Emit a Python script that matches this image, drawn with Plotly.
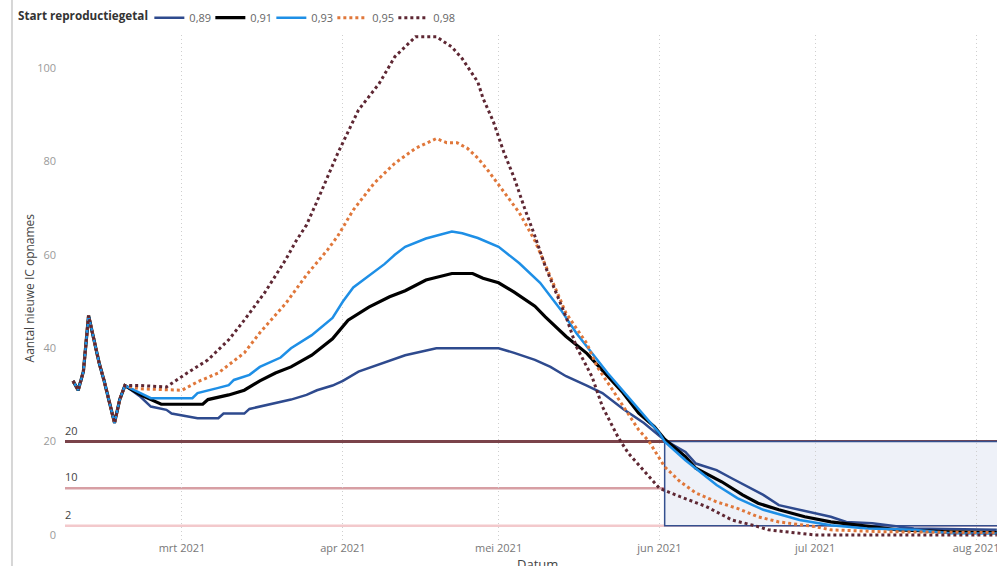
import plotly.graph_objects as go

# ---- data ----
common_dates = ["2021-02-08", "2021-02-09", "2021-02-10", "2021-02-11", "2021-02-12", "2021-02-13",
                "2021-02-14", "2021-02-15", "2021-02-16", "2021-02-17", "2021-02-18"]
common_vals = [33, 31, 35, 47, 42, 37, 33, 28.5, 24, 29, 32]

r089_dates = ["2021-02-21", "2021-02-23", "2021-02-26", "2021-02-27", "2021-03-04", "2021-03-08", "2021-03-09",
              "2021-03-13", "2021-03-14", "2021-03-18", "2021-03-22", "2021-03-25", "2021-03-27", "2021-03-30",
              "2021-04-01", "2021-04-04", "2021-04-09", "2021-04-13", "2021-04-19", "2021-05-01", "2021-05-04",
              "2021-05-08", "2021-05-11", "2021-05-14", "2021-05-18", "2021-05-21", "2021-05-25", "2021-05-28",
              "2021-05-29", "2021-06-02", "2021-06-06", "2021-06-08", "2021-06-12", "2021-06-15", "2021-06-18",
              "2021-06-21", "2021-06-24", "2021-06-28", "2021-07-04", "2021-07-07", "2021-07-12", "2021-07-20",
              "2021-08-05"]
r089_vals = [29.6, 27.5, 26.8, 26, 25, 25, 26,
             26, 27, 28, 29, 30, 31, 32,
             33, 35, 37, 38.5, 40, 40, 39,
             37.5, 36, 34, 32, 30.4, 27, 24.6,
             24, 20.3, 17.8, 15.3, 13.9, 12.1, 10.3,
             8.6, 6.4, 5.4, 3.9, 2.8, 2.5, 1.4,
             1.1]

r091_dates = ["2021-02-21", "2021-02-24", "2021-02-25", "2021-03-05", "2021-03-06", "2021-03-10", "2021-03-13",
              "2021-03-16", "2021-03-19", "2021-03-22", "2021-03-26", "2021-03-30", "2021-04-02", "2021-04-06",
              "2021-04-10", "2021-04-13", "2021-04-17", "2021-04-22", "2021-04-26", "2021-04-28", "2021-05-01",
              "2021-05-04", "2021-05-08", "2021-05-10", "2021-05-14", "2021-05-18", "2021-05-22", "2021-05-25",
              "2021-05-28", "2021-05-31", "2021-06-02", "2021-06-06", "2021-06-08", "2021-06-13", "2021-06-17",
              "2021-06-20", "2021-06-24", "2021-06-29", "2021-07-04", "2021-07-11", "2021-07-17", "2021-07-27",
              "2021-08-05"]
r091_vals = [30, 28.5, 28, 28, 29, 30, 31,
             33, 34.7, 36, 38.5, 42, 46, 48.8,
             51, 52.3, 54.6, 56, 56, 55, 54,
             52, 49, 46.7, 42.5, 38.9, 33.9, 30.4,
             26.1, 23.2, 20.5, 16.8, 14.3, 11.4, 8.6,
             6.8, 5.4, 3.9, 2.8, 1.9, 1.1, 0.7,
             0.5]

r093_dates = ["2021-02-21", "2021-02-23", "2021-03-03", "2021-03-04", "2021-03-08", "2021-03-10", "2021-03-11",
              "2021-03-14", "2021-03-16", "2021-03-20", "2021-03-22", "2021-03-26", "2021-03-30", "2021-04-01",
              "2021-04-03", "2021-04-06", "2021-04-09", "2021-04-11", "2021-04-13", "2021-04-17", "2021-04-22",
              "2021-04-24", "2021-04-27", "2021-05-01", "2021-05-05", "2021-05-09", "2021-05-13", "2021-05-16",
              "2021-05-19", "2021-05-22", "2021-05-25", "2021-05-28", "2021-06-01", "2021-06-02", "2021-06-06",
              "2021-06-12", "2021-06-16", "2021-06-21", "2021-06-28", "2021-07-04", "2021-07-11", "2021-07-20",
              "2021-07-27", "2021-08-05"]
r093_vals = [30.4, 29.3, 29.3, 30.4, 31.5, 32.1, 33.2,
             34.3, 36, 38, 40, 42.8, 46.5, 50,
             53, 55.5, 58, 60, 61.7, 63.5, 65,
             64.6, 63.6, 61.7, 58.2, 54, 48.2, 43.2,
             38.9, 34.7, 30.8, 27, 21.8, 20, 16,
             10.7, 7.9, 5.4, 3.2, 2.1, 1.4, 1.1,
             0.4, 0.3]

r095_dates = ["2021-02-21", "2021-03-01", "2021-03-04", "2021-03-08", "2021-03-13", "2021-03-16", "2021-03-21",
              "2021-03-25", "2021-03-29", "2021-03-31", "2021-04-03", "2021-04-07", "2021-04-11", "2021-04-15",
              "2021-04-19", "2021-04-21", "2021-04-23", "2021-04-25", "2021-04-27", "2021-04-29", "2021-05-01",
              "2021-05-03", "2021-05-05", "2021-05-08", "2021-05-11", "2021-05-14", "2021-05-18", "2021-05-20",
              "2021-05-23", "2021-05-26", "2021-05-28", "2021-05-30", "2021-06-02", "2021-06-05", "2021-06-08",
              "2021-06-12", "2021-06-16", "2021-06-20", "2021-06-24", "2021-07-01", "2021-07-04", "2021-07-14",
              "2021-08-05"]
r095_vals = [31.3, 31, 32.8, 34.7, 39, 43.3, 49.6,
             55.7, 61, 64, 69.6, 75.3, 79.6, 82.8,
             84.9, 84, 84, 82.8, 80.7, 78, 75,
             72, 69, 63, 55.3, 47.5, 41, 36,
             31, 26, 22.5, 20, 14.6, 11.4, 9,
             7.1, 5.7, 3.9, 2.8, 1.8, 1.1, 0.7,
             0.5]

r098_dates = ["2021-02-21", "2021-02-26", "2021-03-02", "2021-03-06", "2021-03-10", "2021-03-13", "2021-03-17",
              "2021-03-21", "2021-03-23", "2021-03-25", "2021-03-27", "2021-03-31", "2021-04-04", "2021-04-08",
              "2021-04-11", "2021-04-15", "2021-04-19", "2021-04-22", "2021-04-24", "2021-04-27", "2021-04-28",
              "2021-04-30", "2021-05-02", "2021-05-04", "2021-05-06", "2021-05-08", "2021-05-10", "2021-05-14",
              "2021-05-16", "2021-05-19", "2021-05-21", "2021-05-24", "2021-05-26", "2021-06-01", "2021-06-05",
              "2021-06-10", "2021-06-15", "2021-06-19", "2021-06-22", "2021-07-01", "2021-08-05"]
r098_vals = [32, 31.7, 34.7, 37.5, 41.8, 46, 52,
             59, 63, 66.4, 71.4, 81.7, 91, 96.7,
             102.4, 106.7, 106.7, 104.5, 102, 97, 93.5,
             88.5, 82, 76.5, 70, 64, 57.5, 46.7,
             40.3, 33.9, 27.5, 21, 17.5, 10, 8.2,
             6.1, 3.2, 2.1, 1.1, 0, 0]

series_names = ["0,89", "0,91", "0,93", "0,95", "0,98"]
series_dates = [r089_dates, r091_dates, r093_dates, r095_dates, r098_dates]
series_vals = [r089_vals, r091_vals, r093_vals, r095_vals, r098_vals]

ref_levels = [20, 10, 2]
ref_labels = ["20", "10", "2"]
zone_start = "2021-06-02"
zone_end = "2021-08-10"
zone_low, zone_high = 2, 20

month_ticks = ["2021-03-01", "2021-04-01", "2021-05-01", "2021-06-01", "2021-07-01", "2021-08-01"]
month_labels = ["mrt 2021", "apr 2021", "mei 2021", "jun 2021", "jul 2021", "aug 2021"]

# ---- styles ----
colors = ["#2E4A8E", "#000000", "#1E8FE6", "#E0773A", "#5E2733"]
widths = [2.5, 3.2, 2.5, 3, 3]
dashes = ["solid", "solid", "solid", "dot", "dot"]
ref_colors = ["#7A434A", "#D79FA4", "#F3C9CC"]
ref_widths = [3, 2.5, 2.5]

FONT = "Segoe UI, Open Sans, sans-serif"

fig = go.Figure()
for name, d, v, c, w, ds in zip(series_names, series_dates, series_vals, colors, widths, dashes):
    fig.add_trace(go.Scatter(
        x=common_dates + d, y=common_vals + v, mode="lines", name=name,
        line=dict(color=c, width=w, dash=ds), hoverinfo="skip"))
# empty spacer entry so the last legend label is not clipped
fig.add_trace(go.Scatter(x=[None], y=[None], mode="lines", name=" ",
                         line=dict(color="rgba(0,0,0,0)", width=0), hoverinfo="skip"))

# target zone rectangle
fig.add_shape(type="rect", xref="x", yref="y", x0=zone_start, x1=zone_end, y0=zone_low, y1=zone_high,
              fillcolor="#EEF1F8", line=dict(color="#34508F", width=1.5), layer="below")
for lvl, lab, c, w in zip(ref_levels, ref_labels, ref_colors, ref_widths):
    fig.add_shape(type="line", xref="paper", yref="y", x0=0, x1=1, y0=lvl, y1=lvl,
                  line=dict(color=c, width=w), layer="below")
    fig.add_annotation(xref="paper", yref="y", x=0, y=lvl, text=lab, showarrow=False,
                       xanchor="left", yanchor="bottom", yshift=2, xshift=-2,
                       font=dict(family=FONT, size=11, color="#444444"))

# left border of visual
fig.add_shape(type="line", xref="paper", yref="paper", x0=-0.0569, x1=-0.0569, y0=-0.06, y1=1.08,
              line=dict(color="#D6D6D6", width=2))

fig.add_annotation(xref="paper", yref="paper", x=-0.0376, y=0.5, text="Aantal nieuwe IC opnames",
                   textangle=-90, showarrow=False, xanchor="center", yanchor="middle",
                   font=dict(family=FONT, size=12, color="#444444"))
fig.add_annotation(xref="paper", yref="paper", x=0.5075, y=-0.026, text="Datum", showarrow=False,
                   xanchor="center", yanchor="top",
                   font=dict(family=FONT, size=13, color="#444444"))
# legend title
fig.add_annotation(xref="paper", yref="paper", x=-0.0525, y=1.0396, text="<b>Start reproductiegetal</b>",
                   showarrow=False, xanchor="left", yanchor="middle",
                   font=dict(family=FONT, size=11.7, color="#333333"))

fig.update_layout(
    width=997, height=566,
    margin=dict(l=65, r=0, t=35, b=26),
    paper_bgcolor="white", plot_bgcolor="white",
    font=dict(family=FONT, size=11, color="#777777"),
    showlegend=True,
    legend=dict(orientation="h", x=0.0905, y=1.063, xanchor="left", yanchor="top",
                font=dict(family=FONT, size=11, color="#666666"),
                entrywidth=16, entrywidthmode="pixels", itemwidth=30,
                bgcolor="rgba(0,0,0,0)"),
    xaxis=dict(range=["2021-02-06 11:00", "2021-08-05 00:45"], tickvals=month_ticks, ticktext=month_labels,
               showgrid=True, gridcolor="#CFCFCF", griddash="1px,3px", gridwidth=1,
               zeroline=False, showline=False, ticks="", ticklabeloverflow="allow", automargin=False,
               tickfont=dict(family=FONT, size=11, color="#777777")),
    yaxis=dict(range=[-1.07, 107.07], tickvals=[0, 20, 40, 60, 80, 100], showgrid=False,
               zeroline=False, showline=False, ticks="", ticklabelstandoff=8, automargin=False,
               tickfont=dict(family=FONT, size=11, color="#9A9A9A")),
)

fig.write_html("out.html", config={"displayModeBar": False},
               post_script="document.body.style.margin='0';document.body.style.overflow='hidden';")
